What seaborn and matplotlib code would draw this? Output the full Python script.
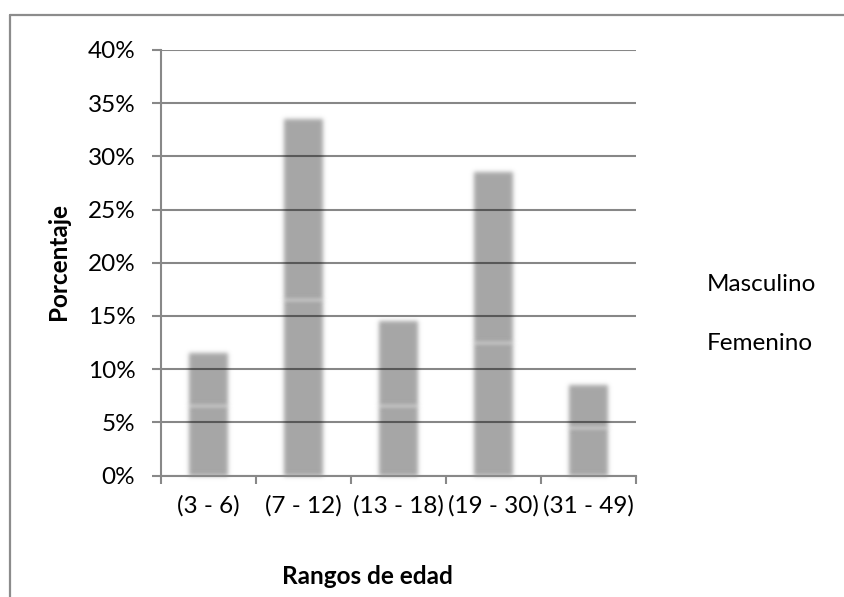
import numpy as np
import pandas as pd
import seaborn as sns
import matplotlib
matplotlib.use("Agg")
import matplotlib.pyplot as plt
from matplotlib.patches import Patch
from matplotlib.lines import Line2D
from matplotlib.ticker import PercentFormatter, FixedLocator

# Age ranges and share of each sex (percent of respondents)
rangos = ["(3 - 6)", "(7 - 12)", "(13 - 18)", "(19 - 30)", "(31 - 49)"]
masculino = [6.5, 16.5, 6.5, 12.5, 4.5]
femenino = [5.0, 17.0, 8.0, 16.0, 4.0]
series = ["Masculino", "Femenino"]
y_ticks = [0, 5, 10, 15, 20, 25, 30, 35, 40]

df = pd.DataFrame({"rango": rangos,
                   "Masculino": masculino,
                   "Femenino": femenino})

sns.set_theme(style="white")
plt.rcParams["font.family"] = ["Lato", "DejaVu Sans"]

FS = 17.5
W, H, DPI = 844, 597, 100
fig = plt.figure(figsize=(W / DPI, H / DPI), dpi=DPI)
left, right, top, bottom = 161, 636, 50, 475.5
ax = fig.add_axes([left / W, 1 - bottom / H, (right - left) / W, (bottom - top) / H])

BAR = "#a6a6a6"


def soften(img, dpi, sigma=2.2):
    """Gaussian blur used as an agg filter for the bars."""
    pad = int(np.ceil(3 * sigma))
    h, w, _ = img.shape
    a = img[..., 3:4]
    work = np.zeros((h + 2 * pad, w + 2 * pad, 4))
    work[pad:pad + h, pad:pad + w, :3] = img[..., :3] * a
    work[pad:pad + h, pad:pad + w, 3:] = a
    k = np.arange(-pad, pad + 1)
    g = np.exp(-k ** 2 / (2 * sigma ** 2))
    g /= g.sum()
    out = np.zeros_like(work)
    for off, wt in zip(k, g):
        out += wt * np.roll(work, off, axis=0)
    work = out
    out = np.zeros_like(work)
    for off, wt in zip(k, g):
        out += wt * np.roll(work, off, axis=1)
    alpha = out[..., 3:4]
    rgb = np.where(alpha > 1e-6, out[..., :3] / np.maximum(alpha, 1e-6), 0)
    res = np.concatenate([np.clip(rgb, 0, 1), np.clip(alpha, 0, 1)], axis=2)
    return res, -pad, -pad


# Stacked columns: Masculino at the base, Femenino on top of it
sns.barplot(data=df, x="rango", y="Masculino", color=BAR, saturation=1,
            width=0.41, linewidth=0, ax=ax, zorder=1)
sns.barplot(data=df, x="rango", y="Femenino", color=BAR, saturation=1,
            width=0.41, linewidth=0, bottom=df["Masculino"].to_numpy(),
            ax=ax, zorder=1)
for p in ax.patches:
    p.set_agg_filter(soften)
    p.set_rasterized(True)

ax.set_xlim(-0.5, len(rangos) - 0.5)
ax.set_ylim(0, 40)
ax.yaxis.set_major_locator(FixedLocator(y_ticks))
ax.yaxis.set_major_formatter(PercentFormatter(decimals=0))

ax.set_axisbelow(False)
ax.yaxis.grid(True, color="black", alpha=0.47, linewidth=1.5)
ax.xaxis.grid(False)

for s in ["top", "right"]:
    ax.spines[s].set_visible(False)
for s in ["left", "bottom"]:
    ax.spines[s].set_color("#888888")
    ax.spines[s].set_linewidth(1.5)
    ax.spines[s].set_zorder(3)

ax.tick_params(axis="y", which="major", left=True, length=6.5, width=1.5,
               color="#888888", labelsize=FS, labelcolor="black", pad=12)
ax.set_xticks(range(len(rangos)))
ax.set_xticklabels(rangos)
ax.set_xticks(np.arange(-0.5, len(rangos)), minor=True)
ax.tick_params(axis="x", which="major", bottom=False, length=0,
               labelsize=FS, labelcolor="black", pad=14)
ax.tick_params(axis="x", which="minor", bottom=True, length=6,
               width=1.5, color="#888888")

ax.set_xlabel("Rangos de edad", fontsize=FS, fontweight="bold", color="black")
ax.xaxis.set_label_coords((367 - left) / (right - left), (bottom - 565) / (bottom - top))
ax.set_ylabel("Porcentaje", fontsize=FS, fontweight="bold", color="black")
ax.yaxis.set_label_coords((70 - left) / (right - left), (bottom - 262) / (bottom - top))

# Legend entries without visible keys
handles = [Patch(facecolor="none", edgecolor="none") for _ in series]
fig.legend(handles, series, loc="upper left",
           bbox_to_anchor=(707 / W, 1 - 274 / H), frameon=False,
           handlelength=0, handletextpad=0, borderpad=0, borderaxespad=0,
           labelspacing=1.58, fontsize=FS, labelcolor="black")

# Outer chart frame (left and top edges)
frame_kw = dict(color="#8c8c8c", linewidth=1.6, transform=None)
fig.add_artist(Line2D([9.5, 9.5], [0, H - 15], **frame_kw))
fig.add_artist(Line2D([9.5, W], [H - 15, H - 15], **frame_kw))

fig.savefig("out.png", dpi=DPI)
